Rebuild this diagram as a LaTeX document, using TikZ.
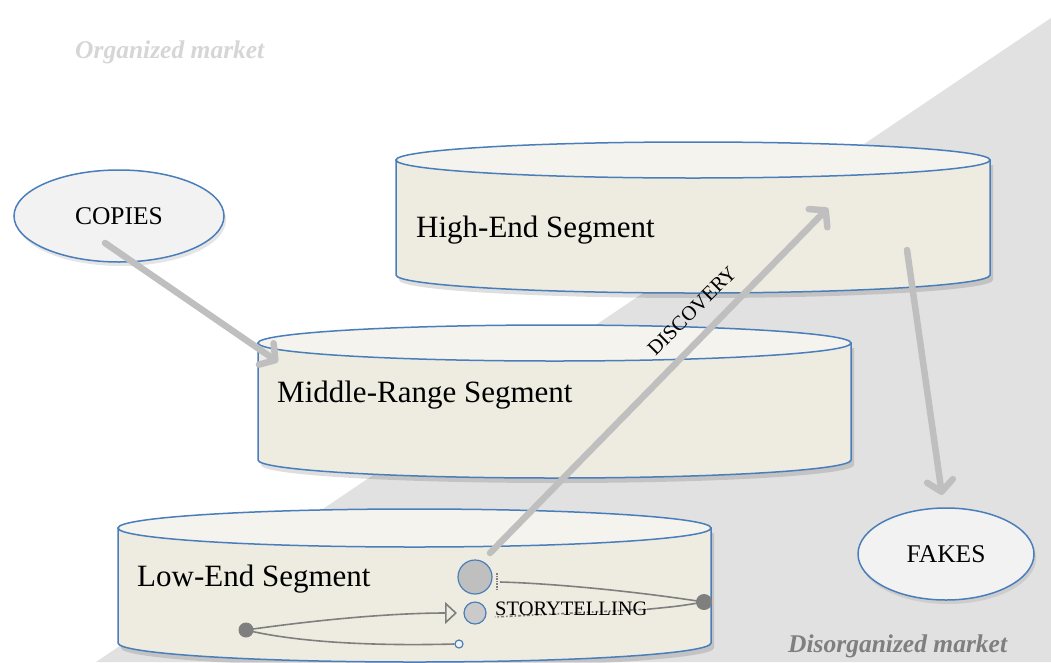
\documentclass[tikz,border=0pt]{standalone}
\usepackage{fontspec}
\setmainfont{Liberation Serif}
\usetikzlibrary{arrows.meta,shapes.geometric,shadows}
\definecolor{bord}{HTML}{4A7EBB}
\definecolor{bodyfill}{HTML}{EEECE1}
\definecolor{topfill}{HTML}{F4F3EE}
\definecolor{ellfill}{HTML}{F2F2F2}
\definecolor{bggray}{HTML}{E1E1E1}
\definecolor{arrgray}{HTML}{BFBFBF}
\definecolor{linegray}{HTML}{7F7F7F}
\definecolor{orggray}{HTML}{D6D6D6}
\definecolor{disgray}{HTML}{7F7F7F}
\definecolor{bigcfill}{HTML}{BFBFBF}
\definecolor{smcfill}{HTML}{CACACA}
\newcommand\segcyl[5]{%
  \pgfmathsetmacro\segcx{(#1+#2)/2}%
  \pgfmathsetmacro\segrx{(#2-#1)/2}%
  \begin{scope}[shift={(3,5)}]
    \fill[black,opacity=.13] (#1,#3) -- (#1,#4) arc[start angle=180,end angle=0,x radius=\segrx,y radius=#5] -- (#2,#3) -- cycle;
  \end{scope}
  \path[fill=bodyfill,draw=bord,line width=1.5pt] (#1,#3) -- (#1,#4) arc[start angle=180,end angle=0,x radius=\segrx,y radius=#5] -- (#2,#3) -- cycle;
  \path[fill=topfill,draw=bord,line width=1.5pt] (\segcx,#3) ellipse[x radius=\segrx,y radius=#5];
}
\tikzset{
  segtext/.style={anchor=base west,inner sep=0pt,font=\fontsize{31}{36}\selectfont},
  ell/.style={ellipse,draw=bord,fill=ellfill,line width=1.5pt,inner sep=0pt,
    font=\fontsize{25.5}{30}\selectfont,
    drop shadow={opacity=0.2,shadow xshift=2pt,shadow yshift=-4pt}},
  bigarrow/.style={draw=arrgray,line width=6.5pt,line cap=round,
    -{Straight Barb[length=11pt,width=26pt,line cap=round,line join=round]}},
  sline/.style={draw=linegray,line width=1.6pt},
  dotnode/.style={circle,fill=linegray,inner sep=0pt},
  market/.style={anchor=base west,inner sep=0pt,font=\bfseries\itshape\fontsize{25.5}{30}\selectfont}
}
\begin{document}
\begin{tikzpicture}[x=1pt,y=-1pt]
\useasboundingbox (0,0) rectangle (1051,662);
\fill[white] (0,0) rectangle (1051,662);
% disorganized market region
\fill[bggray] (1051,18) -- (1051,662) -- (96,662) -- cycle;

% market labels
\node[market,text=orggray] (org) at (75,58) {Organized market};
\node[market,text=disgray] (disorg) at (788,652) {Disorganized market};

% segments
\segcyl{396}{990}{160}{275}{18}
\node[segtext] (high) at (416,237) {High-End Segment};
\segcyl{258}{851}{343}{460}{18}
\node[segtext] (mid) at (277,402) {Middle-Range Segment};
\segcyl{118}{711}{528}{643}{19}
\node[segtext] (low) at (137,586) {Low-End Segment};

% copies / fakes
\node[ell,minimum width=210pt,minimum height=92pt] (copies) at (119,216) {COPIES};
\node[ell,minimum width=176pt,minimum height=92pt] (fakes) at (946,554) {FAKES};

% storytelling loop
\node[circle,draw=bord,fill=bigcfill,line width=1.2pt,minimum size=34pt,inner sep=0pt] (bigc) at (475,577) {};
\node[circle,draw=bord,fill=smcfill,line width=1.2pt,minimum size=22pt,inner sep=0pt] (smc) at (475,613) {};
\node[circle,draw=bord,fill=topfill,line width=1.2pt,minimum size=8pt,inner sep=0pt] (tinyc) at (459,644) {};
\node[dotnode,minimum size=15pt] (ldot) at (246,630) {};
\node[dotnode,minimum size=16pt] (rdot) at (704,602) {};
\coordinate (ltip) at (457,613);
\coordinate (rtop) at (500,582);
\coordinate (rmid) at (650,609);
\coordinate (rlow) at (495,617);
\draw[sline,-{Triangle[open,length=12pt,width=22pt]}] (ldot.center) .. controls (330,618) and (400,613) .. (ltip);
\draw[sline] (ldot.center) .. controls (300,643) and (380,646) .. (tinyc.west);
\draw[sline] (rdot.center) .. controls (620,589) and (540,583) .. (rtop);
\draw[sline,densely dotted] (497,573) -- (497,591);
\draw[sline] (rdot.center) .. controls (680,606) .. (rmid);
\draw[sline,dash dot] (rmid) -- (rlow);
\node[anchor=base west,inner sep=0pt,font=\fontsize{20.5}{24}\selectfont] (story) at (495,615) {STORYTELLING};

% big arrows
\coordinate (copfrom) at (105,243);
\coordinate (midin) at (278,362);
\draw[bigarrow] (copfrom) -- (midin);
\coordinate (discfrom) at (490,553);
\coordinate (highin) at (828,208);
\draw[bigarrow] (discfrom) -- (highin);
\node[font=\fontsize{20.5}{24}\selectfont,rotate=45,inner sep=0pt] (disc) at (692,311) {DISCOVERY};
\coordinate (fakefrom) at (907,250);
\coordinate (fakein) at (942,495);
\draw[bigarrow] (fakefrom) -- (fakein);
\end{tikzpicture}
\end{document}
